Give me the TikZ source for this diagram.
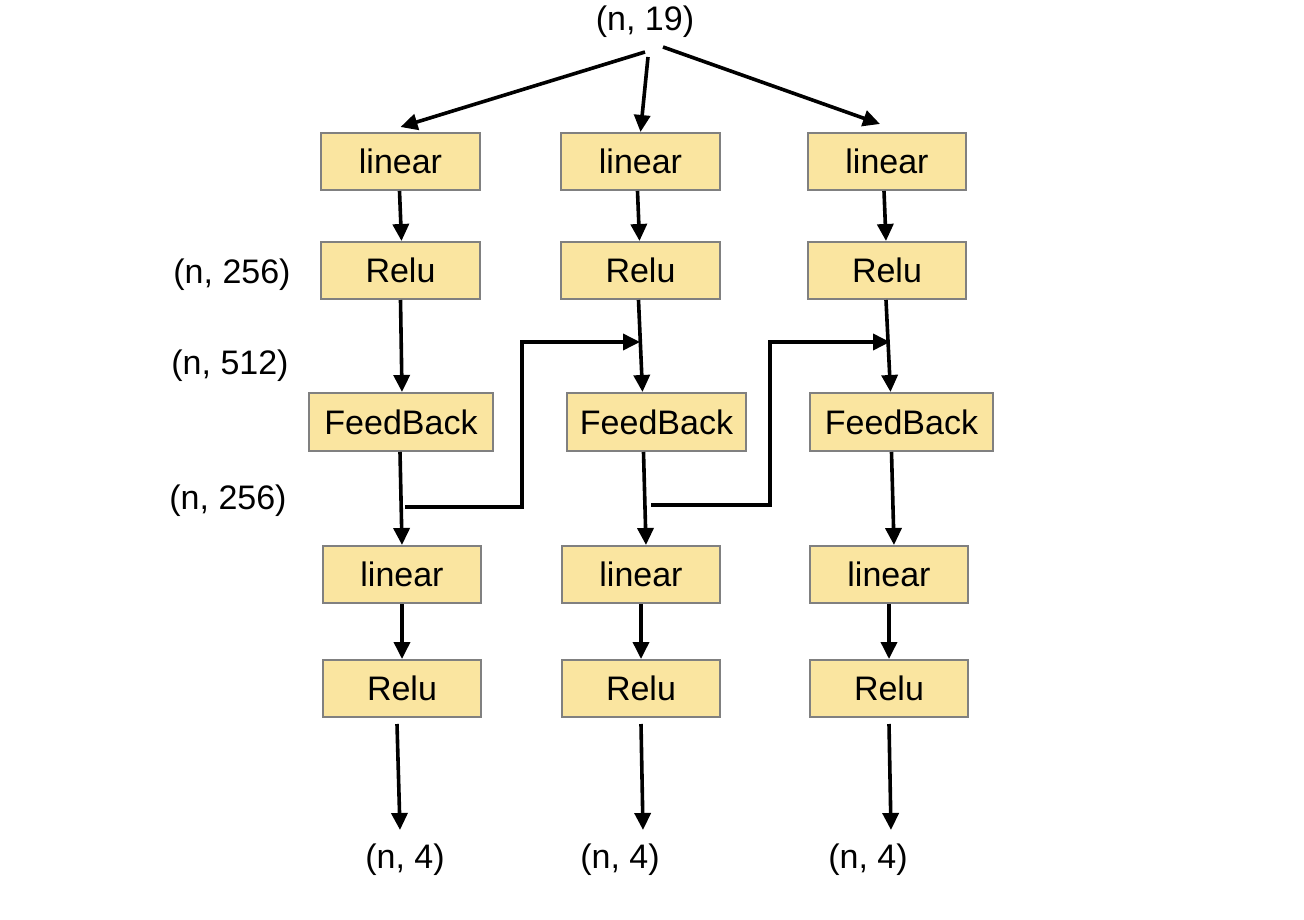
\documentclass[tikz,border=0pt]{standalone}
\usepackage{fontspec}
\setmainfont{Liberation Sans}
\usetikzlibrary{arrows.meta}
\definecolor{boxfill}{RGB}{250,229,160}
\definecolor{boxline}{RGB}{128,128,128}
\begin{document}
\begin{tikzpicture}[x=1pt,y=-1pt,
  box/.style={draw=boxline,line width=2pt,fill=boxfill,minimum height=57pt,inner sep=0pt,font=\fontsize{34}{38}\selectfont},
  lbl/.style={inner sep=0pt,font=\fontsize{34}{38}\selectfont},
  arr/.style={line width=3.6pt,-{Triangle[length=17pt,width=16pt]}}]
\useasboundingbox (0,0) rectangle (1304,920);
% labels
\node[lbl] (top) at (645,22) {(n, 19)};
\node[lbl] (s1) at (232,275) {(n, 256)};
\node[lbl] (s2) at (230,366) {(n, 512)};
\node[lbl] (s3) at (228,501) {(n, 256)};
\node[lbl] (o1) at (405,860) {(n, 4)};
\node[lbl] (o2) at (620,860) {(n, 4)};
\node[lbl] (o3) at (868,860) {(n, 4)};
% row 1
\node[box,minimum width=159pt] (l1) at (400.5,161.5) {linear};
\node[box,minimum width=159pt] (l2) at (640.5,161.5) {linear};
\node[box,minimum width=158pt] (l3) at (887,161.5) {linear};
% row 2
\node[box,minimum width=159pt] (r1) at (400.5,270.5) {Relu};
\node[box,minimum width=159pt] (r2) at (640.5,270.5) {Relu};
\node[box,minimum width=158pt] (r3) at (887,270.5) {Relu};
% row 3
\node[box,minimum width=184pt,minimum height=58pt] (f1) at (401,422) {FeedBack};
\node[box,minimum width=179pt,minimum height=58pt] (f2) at (656.5,422) {FeedBack};
\node[box,minimum width=183pt,minimum height=58pt] (f3) at (901.5,422) {FeedBack};
% row 4
\node[box,minimum width=158pt] (m1) at (402,574.5) {linear};
\node[box,minimum width=158pt] (m2) at (641,574.5) {linear};
\node[box,minimum width=158pt] (m3) at (889,574.5) {linear};
% row 5
\node[box,minimum width=158pt] (q1) at (402,688.5) {Relu};
\node[box,minimum width=158pt] (q2) at (641,688.5) {Relu};
\node[box,minimum width=158pt] (q3) at (889,688.5) {Relu};
% top fan-out
\coordinate (t1) at (645,52);
\coordinate (t2) at (648,57);
\coordinate (t3) at (663,47);
\draw[arr] (t1) -- ([yshift=5pt]l1.north);
\draw[arr] (t2) -- (l2.north);
\draw[arr] (t3) -- ([xshift=-7pt,yshift=8pt]l3.north);
% linear -> relu
\draw[arr] ([xshift=-1pt]l1.south) -- ([xshift=1pt]r1.north);
\draw[arr] ([xshift=-3pt]l2.south) -- ([xshift=-1pt]r2.north);
\draw[arr] ([xshift=-3pt]l3.south) -- ([xshift=-1pt]r3.north);
% relu -> feedback
\draw[arr] (r1.south) -- ([xshift=1pt]f1.north);
\draw[arr] ([xshift=-2pt]r2.south) -- ([xshift=-14pt]f2.north);
\draw[arr] ([xshift=-1pt]r3.south) -- ([xshift=-11pt]f3.north);
% feedback -> linear
\draw[arr] ([xshift=-1pt]f1.south) -- (m1.north);
\draw[arr] ([xshift=-13pt]f2.south) -- ([xshift=5pt]m2.north);
\draw[arr] ([xshift=-10pt]f3.south) -- ([xshift=5pt]m3.north);
% linear -> relu (lower)
\draw[arr] (m1.south) -- (q1.north);
\draw[arr] (m2.south) -- (q2.north);
\draw[arr] (m3.south) -- (q3.north);
% relu -> outputs
\coordinate (e1) at (400,830);
\coordinate (e2) at (643,830);
\coordinate (e3) at (891,830);
\draw[arr] ([xshift=-5pt,yshift=-6pt]q1.south) -- (e1);
\draw[arr] ([xshift=0pt,yshift=-6pt]q2.south) -- (e2);
\draw[arr] ([xshift=0pt,yshift=-6pt]q3.south) -- (e3);
% skip connections
\coordinate (a1) at (405,507);
\coordinate (k1) at (522,342);
\coordinate (j2) at (640,342);
\draw[arr] (a1) -| (k1) -- (j2);
\coordinate (a2) at (651,505);
\coordinate (k2) at (770,342);
\coordinate (j3) at (890,342);
\draw[arr] (a2) -| (k2) -- (j3);
\end{tikzpicture}
\end{document}
